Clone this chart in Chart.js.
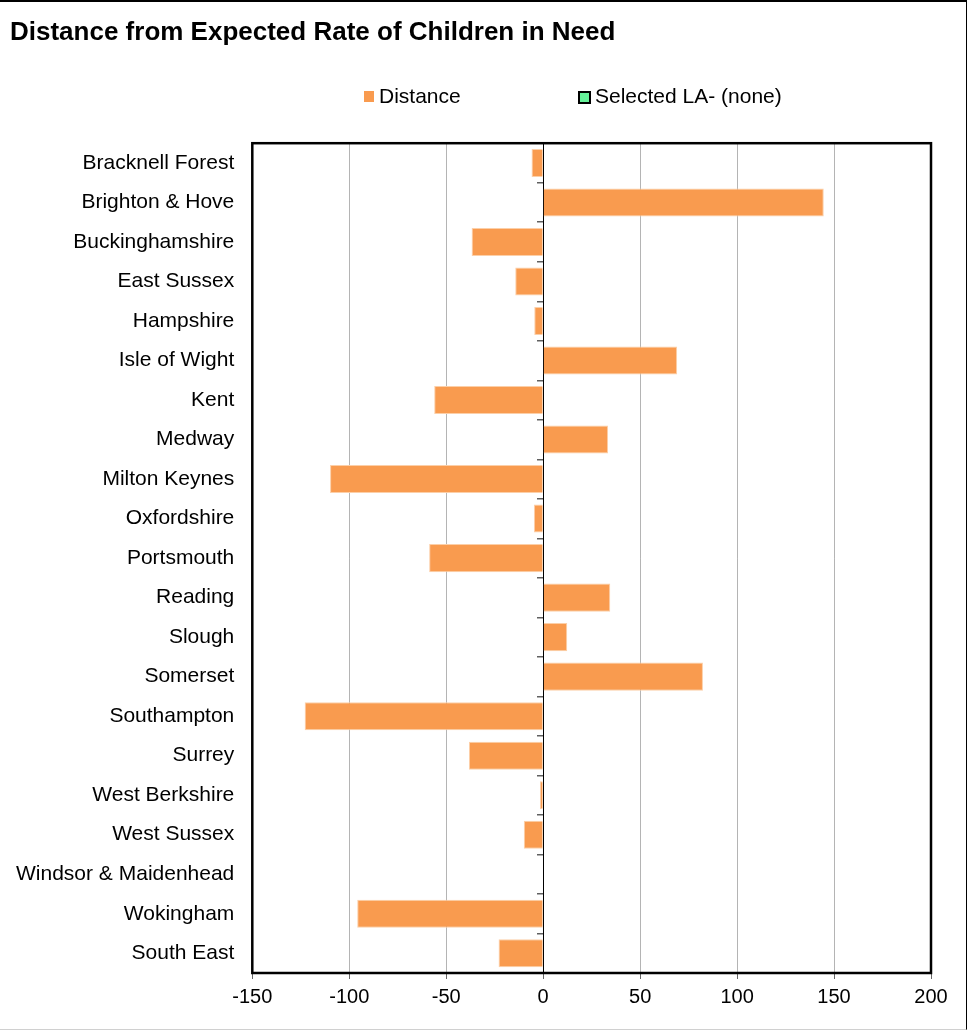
<!DOCTYPE html>
<html>
<head>
<meta charset="utf-8">
<script src="https://cdn.jsdelivr.net/npm/chart.js@4/dist/chart.umd.min.js"></script>
<style>
    body { margin: 0; background: #fff; font-family: "Liberation Sans", Arial, sans-serif; }
    #frame {
        position: absolute; left: 0; top: 0; width: 967px; height: 1030px; box-sizing: border-box;
        border-top: 2px solid #000; border-right: 1px solid #000; border-bottom: 1px solid #d0d0d0;
    }
    #chart { position: absolute; left: 0; top: 0; }
    .legend-item { position: absolute; top: 84px; font-size: 21px; line-height: 24px; color: #000; white-space: nowrap; }
    .legend-box { position: absolute; top: 7px; }
</style>
</head>
<body>
<div id="frame"></div>
<canvas id="chart" width="965" height="1029"></canvas>
<div class="legend-item" style="left: 364px;"><span class="legend-box" style="left: 0; width: 10px; height: 11px; background: #F99B4F;"></span><span style="margin-left: 15px;">Distance</span></div>
<div class="legend-item" style="left: 578px;"><span class="legend-box" style="left: 0; width: 9px; height: 9px; background: #66F29A; border: 2px solid #000;"></span><span style="margin-left: 17px;">Selected LA- (none)</span></div>
<script>
/* global Chart */

const categories = [
    'Bracknell Forest', 'Brighton & Hove', 'Buckinghamshire', 'East Sussex', 'Hampshire',
    'Isle of Wight', 'Kent', 'Medway', 'Milton Keynes', 'Oxfordshire', 'Portsmouth',
    'Reading', 'Slough', 'Somerset', 'Southampton', 'Surrey', 'West Berkshire',
    'West Sussex', 'Windsor & Maidenhead', 'Wokingham', 'South East'
];

const distance = [
    -6, 144.7, -36.9, -14.4, -4.6, 69.1, -56.2, 33.5, -109.9, -4.8, -58.8,
    34.6, 12.4, 82.4, -123, -38.3, -1.7, -10, 0, -95.9, -23
];

const selectedLA = [
    null, null, null, null, null, null, null, null, null, null, null,
    null, null, null, null, null, null, null, null, null, null
];

const xTicks = { min: -150, max: 200, step: 50 };

const plotFrame = {
    id: 'plotFrame',
    afterDraw: (chart) => {
        const { ctx, chartArea } = chart;
        ctx.save();
        ctx.strokeStyle = '#000';
        ctx.lineWidth = 2.5;
        ctx.strokeRect(chartArea.left, chartArea.top, chartArea.right - chartArea.left, chartArea.bottom - chartArea.top);
        ctx.restore();
    }
};

const fontFamily = '"Liberation Sans", Arial, sans-serif';

new Chart(document.getElementById('chart'), {
    type: 'bar',
    data: {
        labels: categories,
        datasets: [
            {
                label: 'Distance',
                data: distance,
                backgroundColor: '#F99B4F',
                borderColor: '#FCCFA8',
                borderWidth: 1,
                grouped: false,
                categoryPercentage: 1,
                barPercentage: 0.71
            },
            {
                label: 'Selected LA- (none)',
                data: selectedLA,
                backgroundColor: '#66F29A',
                borderColor: '#000',
                borderWidth: 2,
                grouped: false,
                categoryPercentage: 1,
                barPercentage: 0.71
            }
        ]
    },
    options: {
        indexAxis: 'y',
        responsive: false,
        animation: false,
        layout: { padding: { left: 10, top: 5, right: 34, bottom: 0 } },
        plugins: {
            legend: { display: false },
            tooltip: { enabled: false },
            title: {
                display: true,
                text: 'Distance from Expected Rate of Children in Need',
                align: 'start',
                color: '#000',
                font: { family: fontFamily, size: 26, weight: 'bold' },
                padding: { top: 12, bottom: 95 }
            }
        },
        scales: {
            x: {
                min: xTicks.min,
                max: xTicks.max,
                ticks: {
                    stepSize: xTicks.step,
                    color: '#000',
                    font: { family: fontFamily, size: 20 },
                    padding: 6,
                    maxRotation: 0
                },
                grid: {
                    color: (ctx) => (ctx.tick && ctx.tick.value === 0 ? '#000' : '#B4B4B4'),
                    tickColor: '#666',
                    tickLength: 6
                },
                border: { display: false },
                afterFit: (scale) => { scale.height = 56; }
            },
            y: {
                ticks: { color: '#000', font: { family: fontFamily, size: 21 }, padding: 18, autoSkip: false },
                grid: { display: false, drawTicks: false },
                border: { display: false },
                afterFit: (scale) => { scale.width = 242.3; }
            },
            y2: {
                type: 'category',
                position: { x: 0 },
                offset: true,
                z: 1,
                ticks: { display: false },
                grid: { drawOnChartArea: false, offset: true, tickLength: 6, color: '#606060', lineWidth: 1.5 },
                border: { display: true, color: '#000', width: 1 }
            }
        }
    },
    plugins: [plotFrame]
});
</script>
</body>
</html>
